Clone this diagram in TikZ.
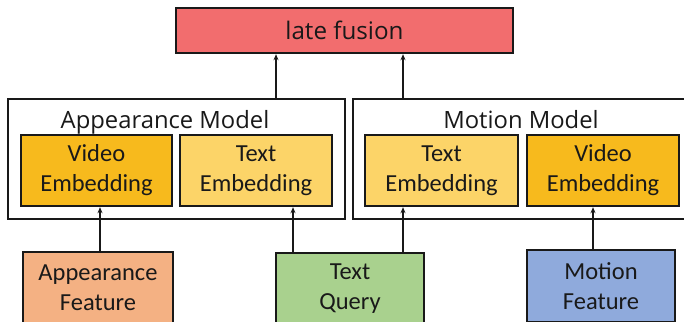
\documentclass[tikz,border=0pt]{standalone}
\usepackage{fontspec}
\setmainfont{Carlito}
\newfontfamily\titlefont{Open Sans}
\usetikzlibrary{arrows.meta}
\definecolor{fusionred}{HTML}{F26D6E}
\definecolor{videoyel}{HTML}{F7BA1D}
\definecolor{textyel}{HTML}{FCD468}
\definecolor{appor}{HTML}{F4B183}
\definecolor{querygr}{HTML}{A9D18E}
\definecolor{motbl}{HTML}{8FAADC}
\tikzset{
  box/.style={draw=black!90, line width=2.4pt, rectangle, inner sep=0pt, align=center,
    font=\fontsize{24.5}{30}\selectfont, text=black!90},
  embbox/.style={box, minimum width=151pt, minimum height=71pt},
  featbox/.style={box, minimum width=150pt, minimum height=72pt},
  modelbox/.style={draw=black!90, line width=2.4pt, rectangle, inner sep=0pt, minimum width=337pt, minimum height=120pt},
  title/.style={font=\titlefont\fontsize{23.8}{28}\selectfont, text=black!90, inner sep=0pt},
  arr/.style={-{Stealth[length=6pt,width=5pt]}, line width=1.8pt, draw=black!90},
}
\begin{document}
\begin{tikzpicture}[x=1pt,y=-1pt]
\clip (0,0) rectangle (684,321);
\fill[white] (0,0) rectangle (684,321);
\node[box, fill=fusionred, minimum width=337pt, minimum height=45pt, font=\titlefont\fontsize{24.2}{28}\selectfont] (fusion) at (344.5,30.5) {late fusion};
\node[modelbox] (appmodel) at (176.5,159) {};
\node[modelbox] (motmodel) at (521.5,159) {};
\node[title, anchor=base] (apptitle) at (165,128) {Appearance Model};
\node[title, anchor=base] (mottitle) at (521,128) {Motion Model};
\node[embbox, fill=videoyel] (lve) at (96.5,170.5) {Video\\Embedding};
\node[embbox, fill=textyel, minimum width=152pt] (lte) at (256,170.5) {Text\\Embedding};
\node[embbox, fill=textyel, minimum width=153pt] (rte) at (441.5,170.5) {Text\\Embedding};
\node[embbox, fill=videoyel, minimum width=152pt] (rve) at (603,170.5) {Video\\Embedding};
\node[featbox, fill=appor] (af) at (98,288) {Appearance\\Feature};
\node[featbox, fill=querygr, minimum width=148pt] (tq) at (350,289) {Text\\Query};
\node[featbox, fill=motbl, minimum width=148pt] (mf) at (601,286) {Motion\\Feature};
\draw[arr] ([xshift=99.5pt]appmodel.north) -- ([xshift=99.5pt]appmodel.north |- fusion.south);
\draw[arr] ([xshift=-118.5pt]motmodel.north) -- ([xshift=-118.5pt]motmodel.north |- fusion.south);
\draw[arr] ([xshift=2pt]af.north) -- ([xshift=2pt]af.north |- lve.south);
\draw[arr] ([xshift=-57pt]tq.north) -- ([xshift=-57pt]tq.north |- lte.south);
\draw[arr] ([xshift=53pt]tq.north) -- ([xshift=53pt]tq.north |- rte.south);
\draw[arr] ([xshift=-8pt]mf.north) -- ([xshift=-8pt]mf.north |- rve.south);
\end{tikzpicture}
\end{document}
